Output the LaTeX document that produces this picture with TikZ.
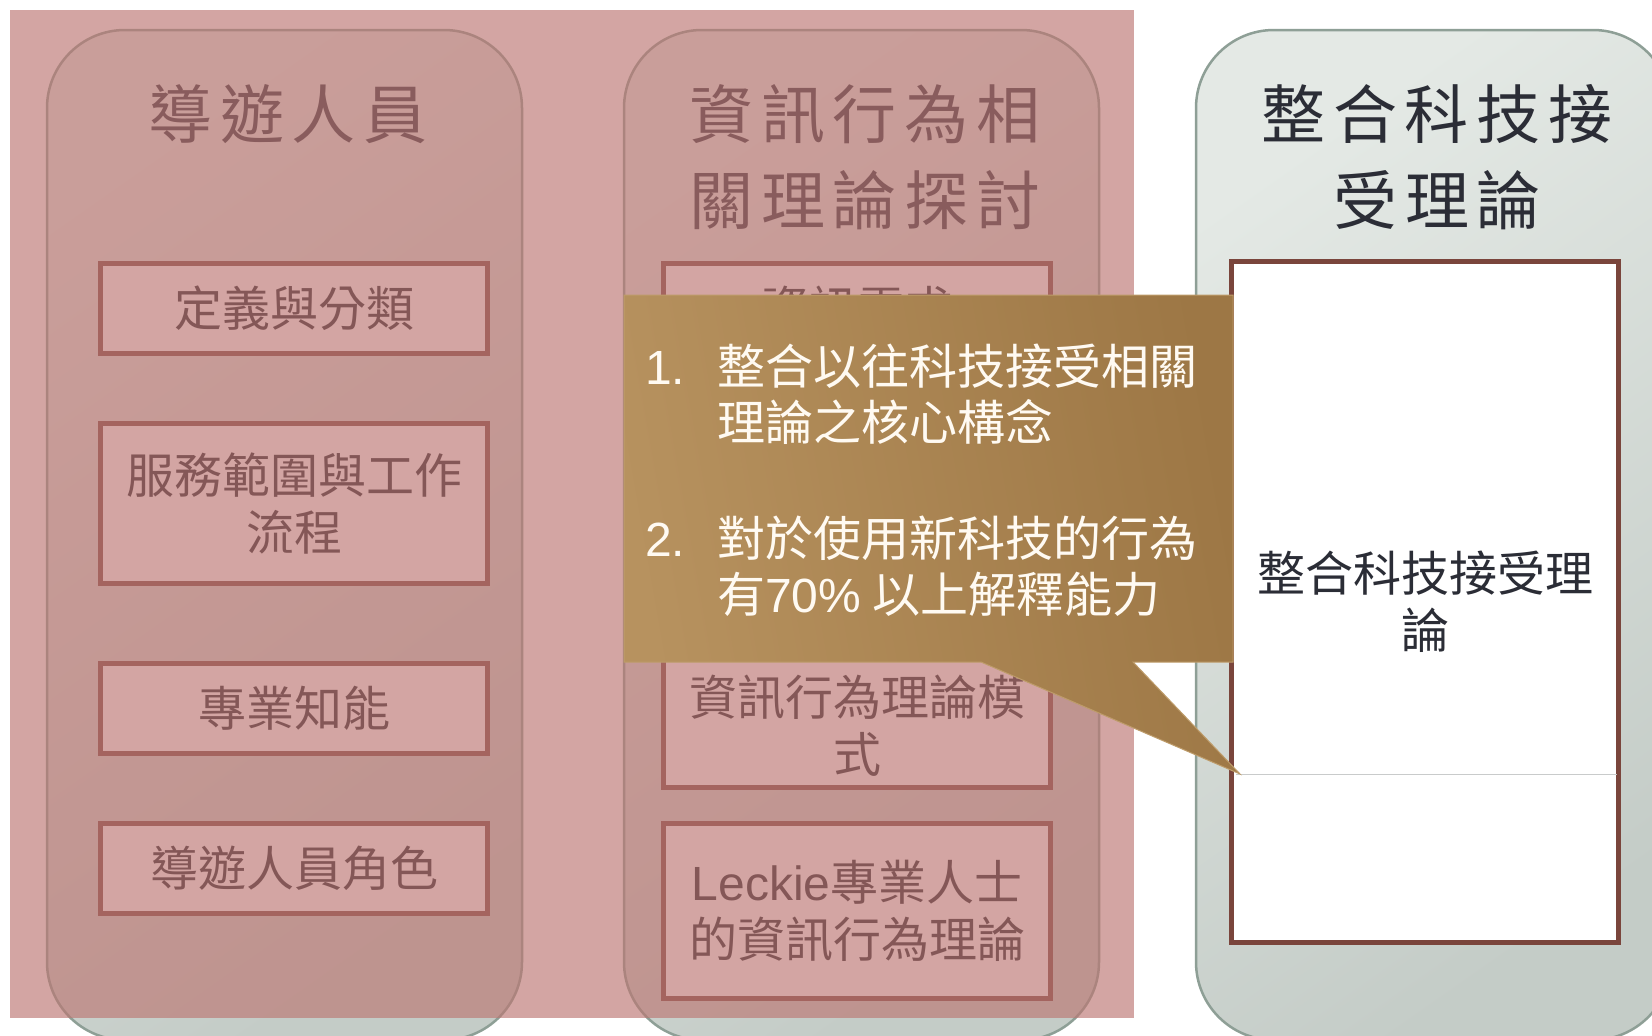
\documentclass[tikz,border=0pt]{standalone}
\usepackage{fontspec}
\setmainfont{Noto Sans CJK TC}
\newfontfamily\cjk{Noto Sans CJK TC}
\newfontfamily\cjkT[LetterSpace=12]{Noto Sans CJK TC}
\newfontfamily\lat{Liberation Sans}
\definecolor{colA}{HTML}{E4E9E5}
\definecolor{colB}{HTML}{C4CCC7}
\definecolor{colEdge}{HTML}{8E9F96}
\definecolor{boxEdge}{HTML}{7A453C}
\definecolor{ink}{HTML}{2B2D36}
\definecolor{boxink}{HTML}{1E1E26}
\definecolor{pinkov}{HTML}{BC7672}
\definecolor{calL}{HTML}{B7925F}
\definecolor{calR}{HTML}{9D7745}
\definecolor{calEdge}{HTML}{BE9C6A}
\definecolor{calText}{HTML}{FFFAF2}
\definecolor{rulecol}{HTML}{C9CBCB}
\begin{document}
\begin{tikzpicture}[x=1pt,y=-1pt,
  colshape/.style={rounded corners=78pt, draw=colEdge, line width=2.5pt,
    top color=colA, bottom color=colB, shading angle=35,
    minimum width=475pt, minimum height=1010pt, inner sep=0pt},
  coltitle/.style={text=ink, align=center, font={\fontsize{64}{86}\selectfont\cjkT}},
  itembox/.style={draw=boxEdge, line width=5pt, fill=white, minimum width=387pt,
    inner sep=0pt, align=center, text=boxink, font={\fontsize{48}{57}\selectfont\cjk}},
  itemtext/.style={text=boxink, align=center, font={\fontsize{48}{57}\selectfont\cjk}},
  ctext/.style={text=calText, align=left, anchor=west, inner sep=0pt,
    font={\fontsize{48}{56}\selectfont\cjk}},
  calloutshape/.style={left color=calL, right color=calR, shading angle=100,
    draw=calEdge, line width=1pt},
  pinkveil/.style={fill=pinkov, fill opacity=0.65}
]
\useasboundingbox (0,0) rectangle (1652,1036);
\clip (0,0) rectangle (1652,1036);
\fill[white] (0,0) rectangle (1652,1036);

% columns
\node[colshape] (col1) at (284.5,535) {};
\node[colshape] (col2) at (861.5,535) {};
\node[colshape] (col3) at (1433.5,535) {};

% titles
\node[coltitle] (t1) at (288,114) {導遊人員};
\node[coltitle] (t2) at (865,157) {資訊行為相\\關理論探討};
\node[coltitle] (t3) at (1437,157) {整合科技接\\受理論};

% column 1 boxes
\node[itembox, minimum height=90pt] (b11) at (294,308.5) {定義與分類};
\node[itembox, minimum height=160pt] (b12) at (294,503.5) {服務範圍與工作\\流程};
\node[itembox, minimum height=90pt] (b13) at (294,708.5) {專業知能};
\node[itembox, minimum height=90pt] (b14) at (294,868.5) {導遊人員角色};

% column 2 boxes
\node[itembox, minimum height=90pt] (b21) at (857,308.5) {資訊需求};
\node[itembox, minimum height=175pt] (b22) at (857,700) {};
\node[itemtext] (b22t) at (857,726) {資訊行為理論模\\式};
\node[itembox, minimum height=175pt] (b23) at (857,911) {{\lat Leckie}專業人士\\的資訊行為理論};

% pink hatched veil
\path[pinkveil] (10,10) rectangle (1134,1018);

% column 3 box
\node[itembox, minimum width=387pt, minimum height=681pt, text=ink] (b31) at (1425,602) {整合科技接受理\\論};
\coordinate (g1) at (1236,774);
\coordinate (g2) at (1617,774);
\draw[rulecol, line width=1pt] (g1) -- (g2);

% callout
\path[calloutshape] (624,295) -- (1233,295) -- (1233,662) -- (1133,662)
  -- (1240,774) -- (981,662) -- (624,662) -- cycle;
\node[ctext] (c1) at (645,394) {\makebox[72pt][l]{\lat 1.}整合以往科技接受相關\\\hspace*{72pt}理論之核心構念};
\node[ctext] (c2) at (645,566) {\makebox[72pt][l]{\lat 2.}對於使用新科技的行為\\\hspace*{72pt}有{\lat 70\%} 以上解釋能力};
\end{tikzpicture}
\end{document}
